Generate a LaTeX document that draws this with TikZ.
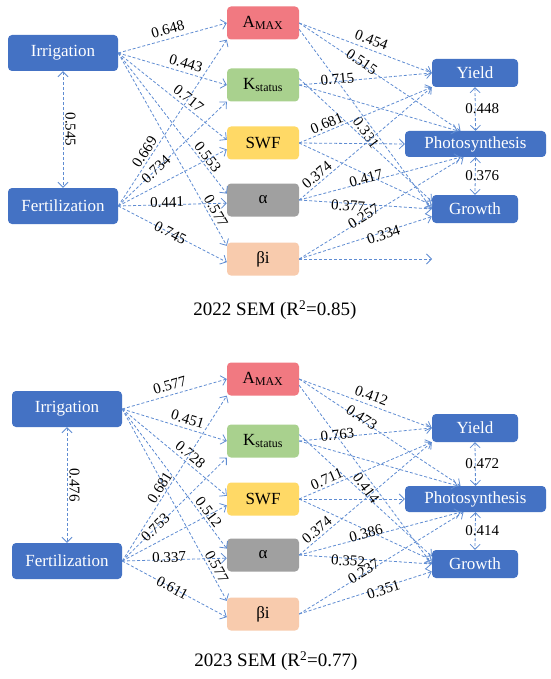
\documentclass[tikz,border=0pt]{standalone}
\usepackage{fontspec}
\setmainfont{Liberation Serif}
\usetikzlibrary{arrows.meta,calc}
\definecolor{nblue}{RGB}{68,114,196}
\definecolor{camax}{RGB}{241,121,129}
\definecolor{ckst}{RGB}{169,209,142}
\definecolor{cswf}{RGB}{255,217,102}
\definecolor{cal}{RGB}{160,160,160}
\definecolor{cbeta}{RGB}{248,203,173}
\definecolor{ecol}{RGB}{95,140,210}
\tikzset{
  blu/.style={fill=nblue, rounded corners=4pt, text=white, minimum width=110pt, minimum height=36pt, inner sep=0pt, font=\fontsize{17}{20}\selectfont},
  med/.style={rounded corners=4pt, minimum width=72pt, minimum height=33pt, inner sep=0pt, font=\fontsize{17}{20}\selectfont},
  outb/.style={fill=nblue, rounded corners=4pt, text=white, minimum width=86pt, minimum height=28pt, inner sep=0pt, font=\fontsize{17}{20}\selectfont},
  conn/.style={draw=ecol, line width=0.8pt, dash pattern=on 3pt off 2pt, -{Straight Barb[length=5pt,width=10pt]}},
  both/.style={draw=ecol, line width=0.8pt, dash pattern=on 3pt off 2pt, {Straight Barb[length=5pt,width=10pt]}-{Straight Barb[length=5pt,width=10pt]}},
  lab/.style={font=\fontsize{15}{17}\selectfont, sloped, inner sep=1pt, text=black},
  labv/.style={font=\fontsize{15}{17}\selectfont, inner sep=1pt, text=black},
  capt/.style={font=\fontsize{19}{22}\selectfont, inner sep=0pt},
}
\begin{document}
\begin{tikzpicture}[x=1pt,y=-1pt]
\fill[white] (0,0) rectangle (550,679);
\useasboundingbox (0,0) rectangle (550,679);

% ---------------- 2022 panel ----------------
\node[blu] (I1) at (63,53) {Irrigation};
\node[blu] (F1) at (63,206) {Fertilization};
\node[med, fill=camax] (A1) at (263,23) {A\textsubscript{MAX}};
\node[med, fill=ckst] (K1) at (263,85) {K\textsubscript{status}};
\node[med, fill=cswf] (S1) at (263,143) {SWF};
\node[med, fill=cal] (L1) at (263,200) {α};
\node[med, fill=cbeta] (B1) at (263,259) {βi};
\node[outb] (Y1) at (475,73) {Yield};
\node[outb, minimum width=141pt, minimum height=26pt] (P1) at (475.5,144) {Photosynthesis};
\node[outb] (G1) at (475,209) {Growth};
\node[capt] (C1) at (275,310) {2022 SEM (R\textsuperscript{2}=0.85)};
\coordinate (E1) at (432,259);

\draw[conn] (I1.east) -- node[lab,pos=.48,above=3pt]{0.648} (A1.west);
\draw[conn] (I1.east) -- node[lab,pos=.6,above=3pt]{0.443} (K1.west);
\draw[conn] (I1.east) -- node[lab,pos=.6,above=2pt]{0.717} (S1.175);
\draw[conn] (I1.east) -- node[lab,pos=.77,above=1pt]{0.553} (L1.170);
\draw[conn] (I1.east) -- node[lab,pos=.84,above=1pt]{0.577} (B1.160);
\draw[conn] (F1.east) -- node[lab,pos=.3,above=1pt]{0.669} (A1.south west);
\draw[conn] (F1.east) -- node[lab,pos=.35,above=-6pt]{0.734} (K1.south west);
\draw[conn] (F1.east) -- (S1.190);
\draw[conn] (F1.east) -- node[lab,pos=.45,above=-4pt]{0.441} (L1.185);
\draw[conn] (F1.east) -- node[lab,pos=.48]{0.745} (B1.185);
\draw[both] (I1.south) -- node[lab,pos=.5,above=1pt]{0.545} (F1.north);

\draw[conn] (A1.east) -- node[lab,pos=.52,above=3pt]{0.454} (Y1.west);
\draw[conn] (A1.east) -- node[lab,pos=.38,above=-4pt]{0.515} ($(P1.north)+(-15,0)$);
\draw[conn] (A1.-10) -- node[lab,pos=.55,below=1pt]{0.331} (G1.west);
\draw[conn] (K1.east) -- node[lab,pos=.29,above=-4pt]{0.715} (Y1.west);
\draw[conn] (K1.east) -- ($(P1.north)+(-18,0)$);
\draw[conn] (K1.10) -- (G1.170);
\draw[conn] (S1.east) -- node[lab,pos=.23,above=1pt]{0.681} (Y1.south west);
\draw[conn] (S1.east) -- (P1.west);
\draw[conn] (S1.east) -- (G1.175);
\draw[conn] (L1.east) -- node[lab,pos=.17,above=1pt]{0.374} (Y1.south west);
\draw[conn] (L1.east) -- node[lab,pos=.42,above=-3pt]{0.417} ($(P1.south)+(-15,0)$);
\draw[conn] (L1.east) -- node[lab,pos=.37,below=-4pt]{0.377} (G1.west);
\draw[conn] (B1.east) -- node[lab,pos=.4,above=-4pt]{0.257} ($(P1.south)+(-12,0)$);
\draw[conn] (B1.east) -- node[lab,pos=.63,below=-4pt]{0.334} (G1.190);
\draw[conn] (B1.east) -- (E1);
\draw[both] (Y1.south) -- node[labv,pos=.5,xshift=7pt]{0.448} (P1.north);
\draw[both] (P1.south) -- node[labv,pos=.5,xshift=7pt]{0.376} (G1.north);

% ---------------- 2023 panel ----------------
\node[blu] (I2) at (67,409) {Irrigation};
\node[blu] (F2) at (67,561) {Fertilization};
\node[med, fill=camax] (A2) at (263,379) {A\textsubscript{MAX}};
\node[med, fill=ckst] (K2) at (263,441) {K\textsubscript{status}};
\node[med, fill=cswf] (S2) at (263,499) {SWF};
\node[med, fill=cal] (L2) at (263,555) {α};
\node[med, fill=cbeta] (B2) at (263,614) {βi};
\node[outb] (Y2) at (475,428) {Yield};
\node[outb, minimum width=141pt, minimum height=26pt] (P2) at (475.5,499) {Photosynthesis};
\node[outb] (G2) at (475,564) {Growth};
\node[capt] (C2) at (276,661) {2023 SEM (R\textsuperscript{2}=0.77)};

\draw[conn] (I2.east) -- node[lab,pos=.48,above=3pt]{0.577} (A2.west);
\draw[conn] (I2.east) -- node[lab,pos=.6,above=3pt]{0.451} (K2.west);
\draw[conn] (I2.east) -- node[lab,pos=.6,above=2pt]{0.728} (S2.175);
\draw[conn] (I2.east) -- node[lab,pos=.77,above=1pt]{0.512} (L2.170);
\draw[conn] (I2.east) -- node[lab,pos=.84,above=1pt]{0.577} (B2.160);
\draw[conn] (F2.east) -- node[lab,pos=.42,above=1pt]{0.681} (A2.south west);
\draw[conn] (F2.east) -- node[lab,pos=.32,above=-6pt]{0.753} (K2.south west);
\draw[conn] (F2.east) -- (S2.190);
\draw[conn] (F2.east) -- node[lab,pos=.45,above=-4pt]{0.337} (L2.185);
\draw[conn] (F2.east) -- node[lab,pos=.48]{0.611} (B2.185);
\draw[both] (I2.south) -- node[lab,pos=.5,above=1pt]{0.476} (F2.north);

\draw[conn] (A2.east) -- node[lab,pos=.52,above=3pt]{0.412} (Y2.west);
\draw[conn] (A2.east) -- node[lab,pos=.38,above=-4pt]{0.473} ($(P2.north)+(-15,0)$);
\draw[conn] (A2.-10) -- node[lab,pos=.55,below=1pt]{0.414} (G2.west);
\draw[conn] (K2.east) -- node[lab,pos=.29,above=-4pt]{0.763} (Y2.west);
\draw[conn] (K2.east) -- ($(P2.north)+(-18,0)$);
\draw[conn] (K2.10) -- (G2.170);
\draw[conn] (S2.east) -- node[lab,pos=.23,above=1pt]{0.711} (Y2.south west);
\draw[conn] (S2.east) -- (P2.west);
\draw[conn] (S2.east) -- (G2.175);
\draw[conn] (L2.east) -- node[lab,pos=.17,above=1pt]{0.374} (Y2.south west);
\draw[conn] (L2.east) -- node[lab,pos=.42,above=-3pt]{0.386} ($(P2.south)+(-15,0)$);
\draw[conn] (L2.east) -- node[lab,pos=.37,below=-4pt]{0.352} (G2.west);
\draw[conn] (B2.east) -- node[lab,pos=.4,above=-4pt]{0.237} ($(P2.south)+(-12,0)$);
\draw[conn] (B2.east) -- node[lab,pos=.63,below=-4pt]{0.351} (G2.190);
\draw[both] (Y2.south) -- node[labv,pos=.5,xshift=7pt]{0.472} (P2.north);
\draw[both] (P2.south) -- node[labv,pos=.5,xshift=7pt]{0.414} (G2.north);
\end{tikzpicture}
\end{document}
